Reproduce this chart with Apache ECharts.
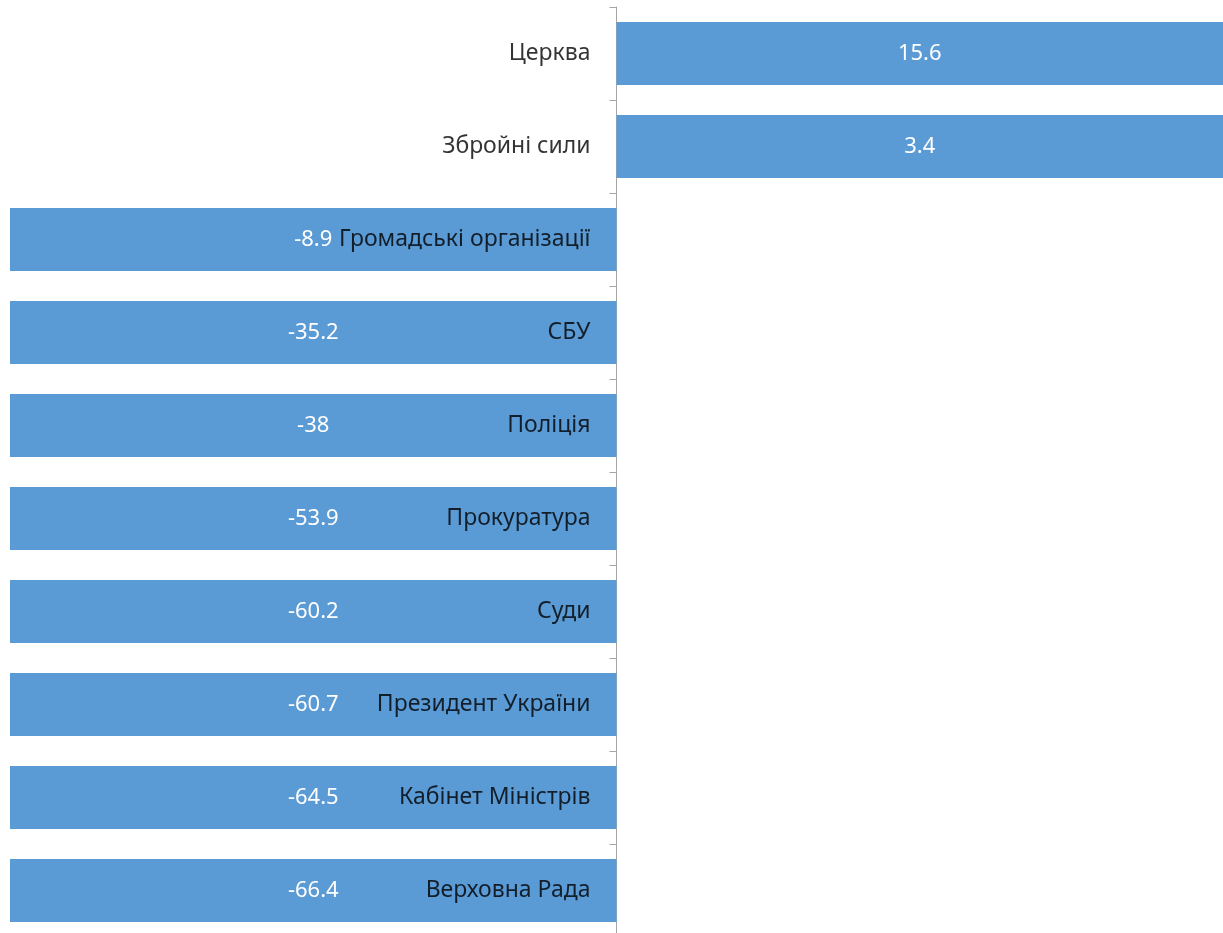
<!DOCTYPE html>
<html>
<head>
<meta charset="utf-8">
<script src="https://cdn.jsdelivr.net/npm/echarts@6/dist/echarts.min.js"></script>
<style>
html,body{margin:0;padding:0;background:#fff;}
#chart{width:1223px;height:933px;}
</style>
</head>
<body>
<div id="chart"></div>
<script>
const categories = ['Церква','Збройні сили','Громадські організації','СБУ','Поліція','Прокуратура','Суди','Президент України','Кабінет Міністрів','Верховна Рада'];
const values = [15.6, 3.4, -8.9, -35.2, -38, -53.9, -60.2, -60.7, -64.5, -66.4];

const chart = echarts.init(document.getElementById('chart'));
chart.setOption({
  animation: false,
  grid: {left: 10, right: 0, top: 7, height: 930, containLabel: false, outerBoundsMode: 'none'},
  xAxis: {
    type: 'value', min: -3, max: 3,
    show: false
  },
  yAxis: {
    type: 'category', data: categories, inverse: true,
    axisLine: {show: true, onZero: true, lineStyle: {color: '#A6A6A6', width: 1}},
    axisTick: {show: true, length: 7, lineStyle: {color: '#A6A6A6'}},
    axisLabel: {show: false},
    splitLine: {show: false}
  },
  series: [{
    type: 'bar', data: values, barCategoryGap: '32%',
    itemStyle: {color: '#5B9BD5'},
    clip: true,
    label: {show: true, position: 'inside', color: '#fff', fontFamily: 'Noto Sans', fontSize: 22}
  }, {
    type: 'scatter', z: 5, silent: true,
    data: categories.map(c => ({name: c, value: [0, c]})),
    symbolSize: 0,
    itemStyle: {color: 'rgba(0,0,0,0)'},
    label: {show: true, position: 'left', distance: 26, color: '#000', fontFamily: 'Noto Sans', fontSize: 23,
      formatter: p => p.name}
  }]
});
</script>
</body>
</html>
